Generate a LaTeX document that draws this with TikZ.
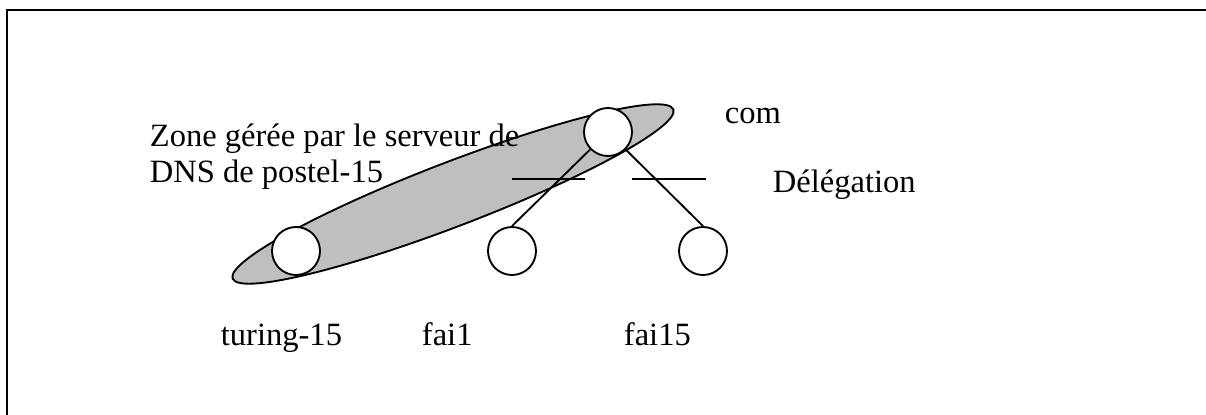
\documentclass[tikz,border=0pt]{standalone}
\usepackage{fontspec}
\setmainfont{Liberation Serif}

\begin{document}
\begin{tikzpicture}[x=0.375pt, y=-0.375pt, line width=0.7pt]
    \tikzstyle{hostnode} = [circle, draw, fill=white, line width=0.7pt, inner sep=0pt, minimum size=18pt]
    \tikzstyle{zone} = [draw, fill=black!25, line width=0.7pt]
    \tikzstyle{lbl} = [anchor=base west, inner sep=0pt, align=left, font=\fontsize{12.2pt}{13.2pt}\selectfont]

    \useasboundingbox (0,0) rectangle (1206,414);
    \clip (0,0) rectangle (1206,414);

    % Frame
    \draw[line width=0.9pt] (7,10) rectangle (1300,500);

    % Zone of postel-15
    \draw[zone, rotate around={21:(453,194)}] (453,194) ellipse [x radius=236, y radius=32];

    % Hosts
    \node[hostnode] (com) at (608,132) {};
    \node[hostnode] (turing) at (296,251) {};
    \node[hostnode] (fai1) at (512,251) {};
    \node[hostnode] (fai15) at (703,251) {};

    % Tree
    \draw (com) -- (fai1.north);
    \draw (com) -- (fai15.north);

    % Delegation marks
    \coordinate (dela) at (512,179);
    \coordinate (delb) at (585,179);
    \coordinate (delc) at (632,179);
    \coordinate (deld) at (706,179);
    \draw (dela) -- (delb);
    \draw (delc) -- (deld);

    % Labels
    \node[lbl] (zonelbl) at (149,182) {Zone gérée par le serveur de\\DNS de postel-15};
    \node[lbl] (comlbl) at (724,123) {com};
    \node[lbl] (deleglbl) at (772,192) {Délégation};
    \node[lbl] (turinglbl) at (220,345) {turing-15};
    \node[lbl] (fai1lbl) at (421,345) {fai1};
    \node[lbl] (fai15lbl) at (623,345) {fai15};

\end{tikzpicture}
\end{document}
